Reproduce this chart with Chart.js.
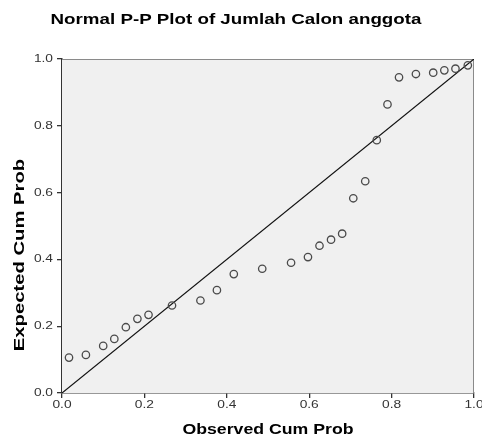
<!DOCTYPE html>
<html>
<head>
<meta charset="utf-8">
<script src="https://cdn.jsdelivr.net/npm/chart.js@4"></script>
<style>
  html, body { margin: 0; padding: 0; background: #fff; }
  #wrap { width: 482px; height: 439px; }
</style>
</head>
<body>
<div id="wrap"><canvas id="ppChart" width="482" height="439"></canvas></div>
<script>
// observed vs expected cumulative probabilities
const observed = [0.017, 0.058, 0.100, 0.127, 0.155, 0.183, 0.210, 0.267, 0.336, 0.376,
                  0.417, 0.486, 0.556, 0.597, 0.625, 0.653, 0.680, 0.707, 0.736, 0.764,
                  0.790, 0.818, 0.859, 0.901, 0.928, 0.955, 0.985];
const expected = [0.106, 0.114, 0.141, 0.162, 0.197, 0.222, 0.234, 0.262, 0.277, 0.308,
                  0.356, 0.372, 0.390, 0.407, 0.441, 0.459, 0.477, 0.583, 0.634, 0.757,
                  0.864, 0.945, 0.955, 0.959, 0.966, 0.971, 0.981];
const refX = [0, 1];
const refY = [0, 1];
const tickVals = [0, 0.2, 0.4, 0.6, 0.8, 1.0];
const tickLabels = ['0.0', '0.2', '0.4', '0.6', '0.8', '1.0'];

const points = observed.map((x, i) => ({ x: x, y: expected[i] }));
const refLine = refX.map((x, i) => ({ x: x, y: refY[i] }));

const FONT = '"Liberation Sans", Arial, sans-serif';

// the original's lettering is stretched along the text direction
function wideText(ctx, txt, x, y, sx, rot) {
    ctx.save();
    ctx.translate(x, y);
    if (rot) ctx.rotate(rot);
    ctx.scale(sx, 1);
    ctx.fillText(txt, 0, 0);
    ctx.restore();
}

// grey plot background, frame, tick labels and titles
const decor = {
    id: 'decor',
    beforeDatasetsDraw(chart) {
        const { ctx, chartArea: a } = chart;
        ctx.save();
        ctx.fillStyle = '#f0f0f0';
        ctx.fillRect(a.left, a.top, a.right - a.left, a.bottom - a.top);
        ctx.strokeStyle = '#8a8a8a';
        ctx.lineWidth = 1;
        ctx.beginPath();
        ctx.moveTo(a.left, a.top + 0.5);
        ctx.lineTo(a.right - 0.5, a.top + 0.5);
        ctx.lineTo(a.right - 0.5, a.bottom);
        ctx.stroke();
        ctx.restore();
    },
    afterDraw(chart) {
        const ctx = chart.ctx;
        const xs = chart.scales.x, ys = chart.scales.y;
        ctx.save();
        ctx.textBaseline = 'middle';

        // tick labels
        ctx.fillStyle = '#333';
        ctx.font = '11px ' + FONT;
        ctx.textAlign = 'center';
        tickVals.forEach((v, i) => {
            wideText(ctx, tickLabels[i], xs.getPixelForValue(v), 405, 1.25);
        });
        ctx.textAlign = 'right';
        tickVals.forEach((v, i) => {
            wideText(ctx, tickLabels[i], 53, ys.getPixelForValue(v), 1.25);
        });

        // titles
        ctx.fillStyle = '#000';
        ctx.textAlign = 'center';
        ctx.font = 'bold 15px ' + FONT;
        wideText(ctx, 'Normal P-P Plot of Jumlah Calon anggota', 236, 20, 1.25);
        wideText(ctx, 'Observed Cum Prob', (xs.left + xs.right) / 2, 430, 1.18);
        wideText(ctx, 'Expected Cum Prob', 20, 255, 1.35, -Math.PI / 2);
        ctx.restore();
    }
};

new Chart(document.getElementById('ppChart'), {
    type: 'scatter',
    data: {
        datasets: [{
            data: points,
            pointStyle: 'circle',
            pointRadius: 3.7,
            pointHoverRadius: 3.7,
            pointBorderWidth: 1.3,
            pointBorderColor: '#4a4a4a',
            pointBackgroundColor: 'rgba(0,0,0,0)'
        }, {
            type: 'line',
            data: refLine,
            borderColor: '#111',
            borderWidth: 1.2,
            pointRadius: 0,
            fill: false
        }]
    },
    options: {
        responsive: false,
        animation: false,
        layout: { padding: { top: 59, right: 8, left: 0, bottom: 0 } },
        plugins: { legend: { display: false }, tooltip: { enabled: false } },
        scales: {
            x: {
                type: 'linear',
                min: 0, max: 1,
                afterBuildTicks: s => { s.ticks = tickVals.map(v => ({ value: v })); },
                afterFit: s => { s.height = 46; },
                grid: { drawOnChartArea: false, drawTicks: true, tickLength: 5, tickColor: '#333', lineWidth: 1.3 },
                border: { color: '#333', width: 1.5 },
                ticks: { display: false }
            },
            y: {
                type: 'linear',
                min: 0, max: 1,
                afterBuildTicks: s => { s.ticks = tickVals.map(v => ({ value: v })); },
                afterFit: s => { s.width = 62; },
                grid: { drawOnChartArea: false, drawTicks: true, tickLength: 5, tickColor: '#333', lineWidth: 1.3 },
                border: { color: '#333', width: 1.5 },
                ticks: { display: false }
            }
        }
    },
    plugins: [decor]
});
</script>
</body>
</html>
